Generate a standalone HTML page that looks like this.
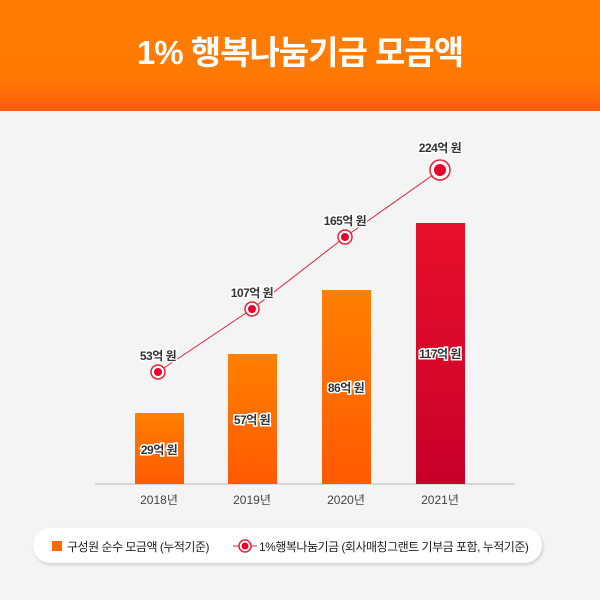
<!DOCTYPE html><html><head><meta charset="utf-8"><style>
body{margin:0;width:600px;height:600px;background:#f4f4f4;font-family:"Liberation Sans","Noto Sans CJK KR",sans-serif;position:relative;overflow:hidden}
.hd{position:absolute;left:0;top:0;width:600px;height:111px;background:linear-gradient(#ff7c00 0%,#ff7a02 70%,#fa5a0c 100%);color:#fff;font-weight:bold;font-size:33px;text-align:center;line-height:106px;letter-spacing:-1px}
.leg{position:absolute;left:33px;top:528px;width:509px;height:35px;background:#fff;border-radius:18px;box-shadow:1px 2px 3px rgba(0,0,0,.15);font-size:12px;color:#222;white-space:nowrap;letter-spacing:-0.5px}
</style></head><body>
<div class="hd">1% 행복나눔기금 모금액</div>
<svg width="600" height="600" style="position:absolute;left:0;top:0">
<defs>
<linearGradient id="o" x1="0" y1="0" x2="0" y2="1"><stop offset="0" stop-color="#ff8000"/><stop offset="1" stop-color="#ff5a00"/></linearGradient>
<linearGradient id="r" x1="0" y1="0" x2="0" y2="1"><stop offset="0" stop-color="#e8102a"/><stop offset="1" stop-color="#c8002a"/></linearGradient>
</defs>
<line x1="95" y1="484" x2="515" y2="484" stroke="#bbb"/>
<rect x="135" y="413" width="49" height="71" fill="url(#o)"/>
<rect x="228" y="354" width="49" height="130" fill="url(#o)"/>
<rect x="322" y="290" width="49" height="194" fill="url(#o)"/>
<rect x="416" y="223" width="49" height="261" fill="url(#r)"/>
<polyline points="158,372 252,309 345,237 440,170" fill="none" stroke="#e8203a" stroke-width="1"/>
<g fill="#e8002a" stroke="#fff" stroke-width="2">
<circle cx="158" cy="372" r="7" fill="#fff" stroke="#e8203a" stroke-width="1.5"/><circle cx="158" cy="372" r="4" stroke="none"/>
<circle cx="252" cy="309" r="7" fill="#fff" stroke="#e8203a" stroke-width="1.5"/><circle cx="252" cy="309" r="4" stroke="none"/>
<circle cx="345" cy="237" r="7" fill="#fff" stroke="#e8203a" stroke-width="1.5"/><circle cx="345" cy="237" r="4" stroke="none"/>
<circle cx="440" cy="170" r="10" fill="#fff" stroke="#e8203a" stroke-width="1.5"/><circle cx="440" cy="170" r="6" stroke="none"/>
</g>
<g font-size="12" font-weight="bold" text-anchor="middle" fill="#333" stroke="#fff" stroke-width="3" paint-order="stroke" letter-spacing="-0.5">
<text x="158" y="360">53억 원</text><text x="252" y="297">107억 원</text><text x="345" y="225">165억 원</text><text x="440" y="152">224억 원</text>
<text x="159" y="454">29억 원</text><text x="252" y="424">57억 원</text><text x="346" y="392">86억 원</text><text x="440" y="358">117억 원</text>
</g>
<g font-size="12" text-anchor="middle" fill="#444">
<text x="159" y="504">2018년</text><text x="252" y="504">2019년</text><text x="346" y="504">2020년</text><text x="440" y="504">2021년</text>
</g>
</svg>
<div class="leg">
<div style="position:absolute;left:19px;top:13px;width:10px;height:10px;background:#ff6a00"></div>
<div style="position:absolute;left:34px;top:10px">구성원 순수 모금액 (누적기준)</div>
<svg style="position:absolute;left:200px;top:8px" width="24" height="20"><line x1="0" y1="10" x2="24" y2="10" stroke="#e8203a"/><circle cx="12" cy="10" r="6" fill="#fff" stroke="#e8203a" stroke-width="1.5"/><circle cx="12" cy="10" r="3.5" fill="#e8002a"/></svg>
<div style="position:absolute;left:226px;top:10px">1%행복나눔기금 (회사매칭그랜트 기부금 포함, 누적기준)</div>
</div>
</body></html>
